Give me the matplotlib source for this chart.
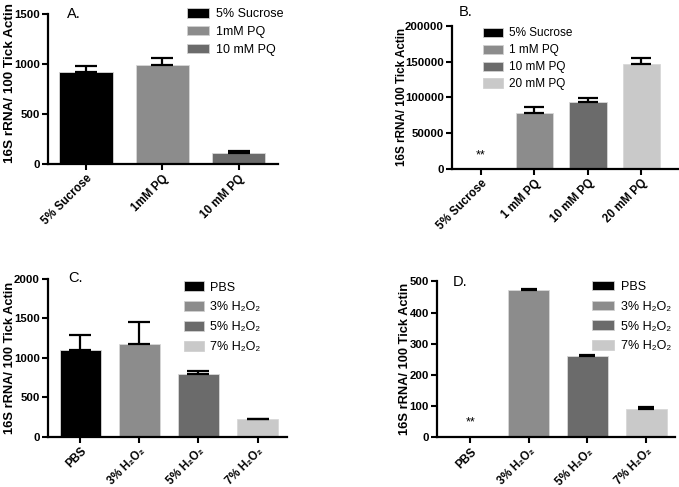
import matplotlib
matplotlib.use("Agg")
import matplotlib.pyplot as plt

plt.rcParams["font.family"] = ["Liberation Sans", "DejaVu Sans"]

BLACK, MID, DARK, LIGHT = "#000000", "#8c8c8c", "#6b6b6b", "#c9c9c9"
YLABEL = "16S rRNA/ 100 Tick Actin"

# panel A
a_labels = ["5% Sucrose", "1mM PQ", "10 mM PQ"]
a_values = [925, 990, 115]
a_err = [55, 70, 12]

# panel B
b_labels = ["5% Sucrose", "1 mM PQ", "10 mM PQ", "20 mM PQ"]
b_values = [0, 78000, 93000, 147000]
b_err = [0, 8000, 6500, 8500]

# panel C
h2o2 = ["PBS", "3% H\u2082O\u2082", "5% H\u2082O\u2082", "7% H\u2082O\u2082"]
c_values = [1100, 1180, 800, 225]
c_err = [195, 280, 30, 5]

# panel D
d_values = [2, 473, 262, 91]
d_err = [0, 3, 2, 5]


def panel(fig, rect, labels, values, err, colors, ylim, yticks, xlim,
          letter, letter_xy, ylab, leg, capsize=8):
    ax = fig.add_axes(rect)
    x = list(range(len(values)))
    bars = ax.bar(x, values, width=0.7, color=colors, edgecolor="#d8d8d8",
                  linewidth=0.6, zorder=2)
    xe = [i for i, e in zip(x, err) if e > 0]
    ye = [v for v, e in zip(values, err) if e > 0]
    ee = [e for e in err if e > 0]
    ax.errorbar(xe, ye, yerr=[[0] * len(ee), ee], fmt="none", ecolor="black",
                elinewidth=1.6, capsize=capsize, capthick=1.6, zorder=3)
    ax.set_xlim(*xlim)
    ax.set_ylim(*ylim)
    ax.set_yticks(yticks)
    ax.set_xticks(x)
    ax.set_xticklabels(labels, rotation=45, ha="right", rotation_mode="anchor",
                       fontsize=8.3, fontweight="bold")
    for t in ax.get_yticklabels():
        t.set_fontweight("bold")
        t.set_fontsize(8.2)
    ax.tick_params(width=1.5, length=4, pad=2)
    for s in ("top", "right"):
        ax.spines[s].set_visible(False)
    for s in ("left", "bottom"):
        ax.spines[s].set_linewidth(1.6)
    ax.set_ylabel(YLABEL, fontsize=ylab[2], fontweight="bold")
    ax.yaxis.set_label_coords(ylab[0], ylab[1])
    fig.text(letter_xy[0], letter_xy[1], letter, fontsize=10.5, va="center")
    lg = ax.legend(bars, labels, loc="upper left", bbox_to_anchor=leg["anchor"],
                   frameon=False, fontsize=leg["size"],
                   handlelength=leg["hlen"], handleheight=0.8,
                   labelspacing=leg["space"], handletextpad=0.55,
                   borderaxespad=0, borderpad=0)
    for h in lg.legend_handles:
        h.set_edgecolor("#d0d0d0")
    return ax


fig = plt.figure(figsize=(6.79, 4.87), dpi=100)

panel(fig, [0.0707, 0.663, 0.339, 0.308], a_labels, a_values, a_err,
      [BLACK, MID, DARK], (0, 1500), [0, 500, 1000, 1500], (-0.5, 2.52),
      "A.", (0.098, 0.971), (-0.139, 0.54, 9.7),
      dict(anchor=(0.605, 1.04), size=9, hlen=1.75, space=0.45))

axb = panel(fig, [0.666, 0.653, 0.332, 0.294], b_labels, b_values, b_err,
            [BLACK, MID, DARK, LIGHT], (0, 200000),
            [0, 50000, 100000, 150000, 200000], (-0.54, 3.68),
            "B.", (0.675, 0.975), (-0.196, 0.5, 8.4),
            dict(anchor=(0.135, 0.99), size=8.5, hlen=1.7, space=0.42),
            capsize=7)
axb.text(0, 19500, "**", ha="center", va="center", fontsize=9)

panel(fig, [0.0707, 0.103, 0.352, 0.324], h2o2, c_values, c_err,
      [BLACK, MID, DARK, LIGHT], (0, 2000), [0, 500, 1000, 1500, 2000],
      (-0.55, 3.5), "C.", (0.101, 0.43), (-0.134, 0.5, 9.3),
      dict(anchor=(0.57, 0.985), size=9, hlen=1.55, space=0.62), capsize=8)

axd = panel(fig, [0.644, 0.102, 0.35, 0.32], h2o2, d_values, d_err,
            [BLACK, MID, DARK, LIGHT], (0, 500), [0, 100, 200, 300, 400, 500],
            (-0.56, 3.49), "D.", (0.667, 0.42), (-0.109, 0.5, 9.3),
            dict(anchor=(0.65, 1.005), size=9, hlen=1.8, space=0.62),
            capsize=6)
axd.text(0, 47, "**", ha="center", va="center", fontsize=9)

fig.savefig("out.png", dpi=100)
